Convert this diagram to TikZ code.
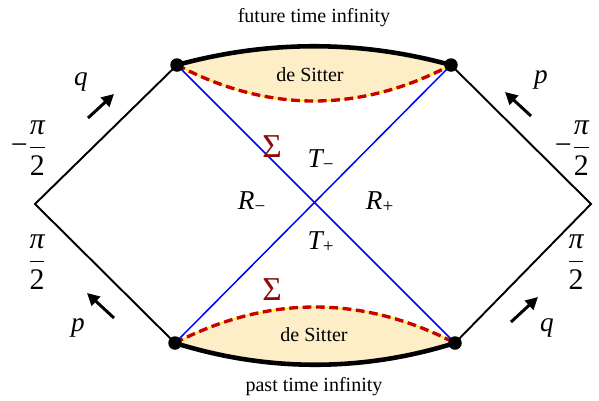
\documentclass[tikz,border=0pt]{standalone}
\usepackage{amsmath}
\usepackage[no-math]{fontspec}
\setmainfont{Liberation Serif}
\usetikzlibrary{arrows.meta}

\definecolor{sigmared}{RGB}{140,10,10}
\definecolor{dashred}{RGB}{200,0,0}
\definecolor{desitfill}{RGB}{254,238,200}

\newcommand{\tx}[1]{\text{#1}}
\newcommand{\ti}[1]{\textit{#1}}
\newcommand{\halfpi}{\dfrac{\ti{π}}{\tx{2}}}

\begin{document}
\begin{tikzpicture}[
    x=0.02cm, y=-0.02cm,
    edge/.style={line width=1.1pt},
    nullray/.style={blue, line width=0.85pt},
    rim/.style={line width=2.6pt},
    horizon/.style={dashred, line width=1.9pt, dash pattern=on 5pt off 2.6pt},
    dot/.style={circle, fill, inner sep=0pt, minimum size=0.27cm},
    lbl/.style={font=\fontsize{15.5}{18}\selectfont},
    frac/.style={font=\fontsize{17}{20}\selectfont},
    sig/.style={text=sigmared, font=\fontsize{19}{22}\selectfont},
    captext/.style={font=\fontsize{11.4}{13}\selectfont},
    flow/.style={-{Triangle[length=7pt,width=7pt]}, line width=1.7pt},
]
    \useasboundingbox (0,0) rectangle (599,400);

    % corners of the diagram
    \coordinate (left)  at (35,204);
    \coordinate (right) at (591,204);
    \coordinate (tl) at (177,65);
    \coordinate (tr) at (451,65);
    \coordinate (bl) at (175,343);
    \coordinate (br) at (455,343);

    % de Sitter caps
    \fill[desitfill] (tl) .. controls (268,40) and (360,40) .. (tr)
        .. controls (360,113) and (268,113) .. (tl) -- cycle;
    \fill[desitfill] (bl) .. controls (268,295) and (362,295) .. (br)
        .. controls (362,372) and (268,372) .. (bl) -- cycle;
    \draw[rim] (tl) .. controls (268,40) and (360,40) .. (tr);
    \draw[rim] (bl) .. controls (268,372) and (362,372) .. (br);
    \draw[yellow, line width=0.7pt] (tl) .. controls (268,113) and (360,113) .. (tr);
    \draw[horizon] (tl) .. controls (268,113) and (360,113) .. (tr);
    \draw[yellow, line width=0.7pt] (bl) .. controls (268,295) and (362,295) .. (br);
    \draw[horizon] (bl) .. controls (268,295) and (362,295) .. (br);

    % light cone lines
    \draw[nullray] (tl) -- (br);
    \draw[nullray] (tr) -- (bl);

    % outer boundary
    \draw[edge] (tl) -- (left) -- (bl);
    \draw[edge] (tr) -- (right) -- (br);

    \node[dot] (tldot) at (tl) {};
    \node[dot] (trdot) at (tr) {};
    \node[dot] (bldot) at (bl) {};
    \node[dot] (brdot) at (br) {};

    % texts
    \node[captext] (future) at (314,18) {future time infinity};
    \node[captext] (past)   at (314,387) {past time infinity};
    \node[captext] (dstop)  at (310,75) {de Sitter};
    \node[captext] (dsbot)  at (314,335) {de Sitter};

    \node[sig] (sigtop) at (272,147) {Σ};
    \node[sig] (sigbot) at (272,290) {Σ};
    \node[lbl] (tminus) at (321,160) {$\ti{T}_{\tx{−}}$};
    \node[lbl] (tplus)  at (321,242) {$\ti{T}_{\tx{+}}$};
    \node[lbl] (rminus) at (252,202) {$\ti{R}_{\tx{−}}$};
    \node[lbl] (rplus)  at (380,202) {$\ti{R}_{\tx{+}}$};

    \node[frac] (lfup)  at (29,148) {$\tx{−}\halfpi$};
    \node[frac] (lfdn)  at (37,262) {$\halfpi$};
    \node[frac] (rfup)  at (573,148) {$\tx{−}\halfpi$};
    \node[frac] (rfdn)  at (576,262) {$\halfpi$};

    % momentum arrows
    \node[lbl] (qleft)  at (81,82) {\ti{q}};
    \node[lbl] (pleft)  at (78,328) {\ti{p}};
    \node[lbl] (pright) at (541,80) {\ti{p}};
    \node[lbl] (qright) at (547,328) {\ti{q}};
    \coordinate (a1) at (88,118);  \coordinate (b1) at (114,94);
    \coordinate (a2) at (114,318); \coordinate (b2) at (87,293);
    \coordinate (a3) at (531,116); \coordinate (b3) at (505,92);
    \coordinate (a4) at (511,322); \coordinate (b4) at (538,297);
    \draw[flow] (a1) -- (b1);
    \draw[flow] (a2) -- (b2);
    \draw[flow] (a3) -- (b3);
    \draw[flow] (a4) -- (b4);
\end{tikzpicture}
\end{document}
